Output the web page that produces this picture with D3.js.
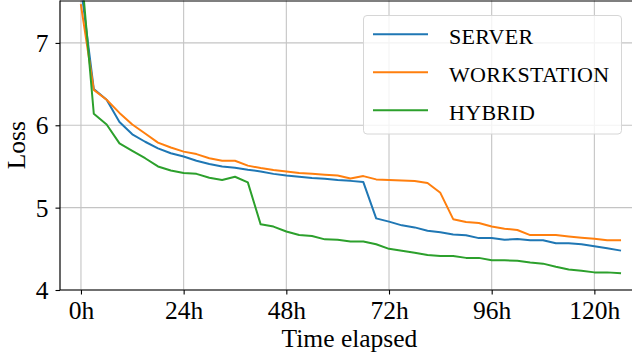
<!DOCTYPE html>
<html>
<head>
<meta charset="utf-8">
<script src="https://cdn.jsdelivr.net/npm/d3@7"></script>
<style>
  html, body { margin: 0; padding: 0; background: #fff; }
  svg { display: block; }
</style>
</head>
<body>
<svg id="chart" width="632" height="360"></svg>
<script>
// ---- data ----
const hours = [0,3,6,9,12,15,18,21,24,27,30,33,36,39,42,45,48,51,54,57,60,63,66,69,72,75,78,81,84,87,90,93,96,99,102,105,108,111,114,117,120,123,126];
const server = [7.68,6.44,6.31,6.04,5.89,5.80,5.72,5.66,5.62,5.57,5.53,5.50,5.485,5.46,5.44,5.41,5.39,5.375,5.36,5.35,5.335,5.325,5.31,4.87,4.83,4.785,4.76,4.72,4.70,4.675,4.665,4.63,4.63,4.61,4.62,4.603,4.605,4.567,4.567,4.555,4.53,4.506,4.48];
const workstation = [7.46,6.43,6.31,6.15,6.01,5.90,5.79,5.73,5.68,5.65,5.60,5.57,5.57,5.51,5.48,5.456,5.44,5.42,5.41,5.40,5.39,5.355,5.383,5.343,5.335,5.33,5.323,5.30,5.18,4.86,4.825,4.813,4.77,4.745,4.728,4.667,4.667,4.667,4.65,4.635,4.623,4.603,4.603];
const hybrid = [7.93,6.14,6.01,5.78,5.69,5.60,5.50,5.45,5.42,5.41,5.363,5.335,5.375,5.307,4.797,4.77,4.71,4.667,4.655,4.615,4.61,4.59,4.59,4.555,4.50,4.477,4.453,4.425,4.413,4.413,4.39,4.39,4.36,4.36,4.356,4.335,4.32,4.283,4.25,4.235,4.214,4.214,4.203];
const seriesNames = ["SERVER", "WORKSTATION", "HYBRID"];
const seriesColors = ["#1f77b4", "#ff7f0e", "#2ca02c"];
const xTicks = [0, 24, 48, 72, 96, 120];
const xTickLabels = ["0h", "24h", "48h", "72h", "96h", "120h"];
const yTicks = [4, 5, 6, 7];
const yTickLabels = ["4", "5", "6", "7"];
const xLabel = "Time elapsed";
const yLabel = "Loss";

const FONT = "'Liberation Serif', 'Times New Roman', serif";

// ---- layout ----
const svg = d3.select("#chart");
const L = 60, R = 641, T = 0.5, B = 290;
const x = d3.scaleLinear().domain([-4.9, 130.9]).range([L, R]);
const y = d3.scaleLinear().domain([4, 7.515]).range([B, T]);

svg.append("defs").append("clipPath").attr("id", "clip")
  .append("rect").attr("x", L).attr("y", T).attr("width", R - L).attr("height", B - T);

// grid
const grid = svg.append("g");
grid.selectAll(".gx").data(xTicks).enter().append("line")
  .attr("x1", d => x(d)).attr("x2", d => x(d)).attr("y1", T).attr("y2", B)
  .attr("stroke", "#c4c4c4").attr("stroke-width", 1.1);
grid.selectAll(".gy").data(yTicks).enter().append("line")
  .attr("x1", L).attr("x2", R).attr("y1", d => y(d)).attr("y2", d => y(d))
  .attr("stroke", "#c4c4c4").attr("stroke-width", 1.1);

// lines
const series = [server, workstation, hybrid];
const line = d3.line().x((d, i) => x(hours[i])).y(d => y(d));
const plot = svg.append("g").attr("clip-path", "url(#clip)");
series.forEach((s, k) => {
  plot.append("path").datum(s).attr("d", line)
    .attr("fill", "none").attr("stroke", seriesColors[k])
    .attr("stroke-width", 2).attr("stroke-linejoin", "round").attr("stroke-linecap", "square");
});

// axes
const xAxis = d3.axisBottom(x).tickValues(xTicks).tickFormat((d, i) => xTickLabels[i]).tickSize(4.5).tickPadding(6);
const yAxis = d3.axisLeft(y).tickValues(yTicks).tickFormat((d, i) => yTickLabels[i]).tickSize(4.5).tickPadding(7);
const gx = svg.append("g").attr("transform", `translate(0,${B})`).call(xAxis);
const gy = svg.append("g").attr("transform", `translate(${L},0)`).call(yAxis);
[gx, gy].forEach(g => {
  g.attr("font-family", null).attr("font-size", null);
  g.select(".domain").remove();
  g.selectAll(".tick line").attr("stroke", "#000").attr("stroke-width", 1.1);
  g.selectAll(".tick text").style("font-family", FONT).style("font-size", "25.5px").attr("fill", "#000");
});
gx.selectAll(".tick text").attr("dy", null).attr("y", 29);
gy.selectAll(".tick text").attr("dy", "0.34em");

// spines (left, bottom, top)
svg.append("line").attr("x1", L).attr("x2", L).attr("y1", T).attr("y2", B).attr("stroke", "#000").attr("stroke-width", 1.2);
svg.append("line").attr("x1", L).attr("x2", R).attr("y1", B).attr("y2", B).attr("stroke", "#000").attr("stroke-width", 1.2);
svg.append("line").attr("x1", L).attr("x2", R).attr("y1", T + 0.5).attr("y2", T + 0.5).attr("stroke", "#000").attr("stroke-width", 1.2);

// axis labels
svg.append("text").attr("x", (L + R) / 2 - 1).attr("y", 347).attr("text-anchor", "middle")
  .style("font-family", FONT).style("font-size", "25.5px").attr("fill", "#000").text(xLabel);
svg.append("text").attr("transform", `translate(25,${(T + B) / 2}) rotate(-90)`).attr("text-anchor", "middle")
  .style("font-family", FONT).style("font-size", "25.5px").attr("fill", "#000").text(yLabel);

// legend
const lg = svg.append("g");
lg.append("rect").attr("x", 363.5).attr("y", 15.5).attr("width", 258).attr("height", 118.5).attr("rx", 3.5)
  .attr("fill", "#fff").attr("fill-opacity", 0.8).attr("stroke", "#d6d6d6").attr("stroke-width", 1);
seriesNames.forEach((name, k) => {
  const ly = 34.3 + k * 38;
  lg.append("line").attr("x1", 373).attr("x2", 428).attr("y1", ly).attr("y2", ly)
    .attr("stroke", seriesColors[k]).attr("stroke-width", 2);
  lg.append("text").attr("x", 449).attr("y", ly + 9.6)
    .style("font-family", FONT).style("font-size", "22px").attr("fill", "#000")
    .attr("letter-spacing", 0.3).text(name);
});
</script>
</body>
</html>
